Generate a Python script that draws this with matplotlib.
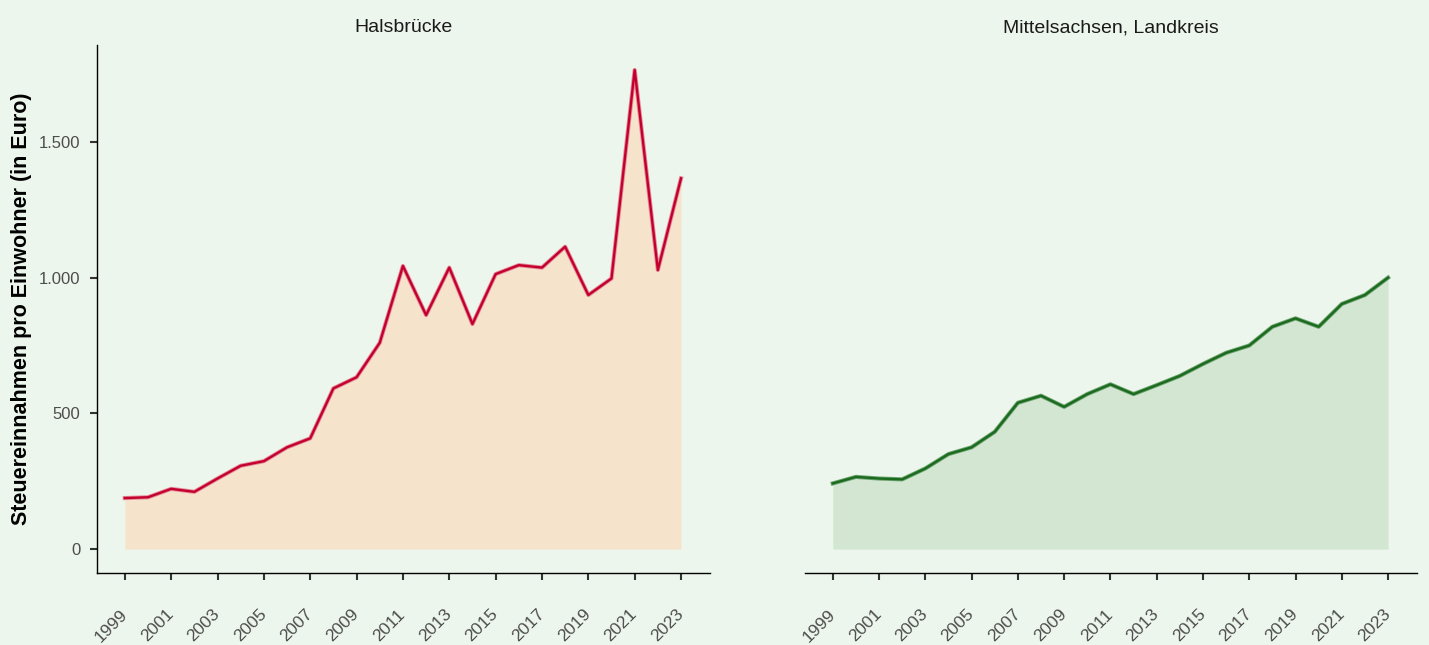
import matplotlib
matplotlib.use("Agg")
import matplotlib.pyplot as plt
from matplotlib.ticker import FuncFormatter

plt.rcParams['font.family'] = ['Liberation Sans', 'DejaVu Sans']

years = list(range(1999, 2024))
halsbruecke = [188, 191, 222, 211, 260, 307, 324, 375, 408, 592, 633, 760,
               1043, 862, 1037, 829, 1013, 1046, 1037, 1114, 936, 997, 1765, 1028, 1366]
mittelsachsen = [242, 266, 260, 257, 297, 350, 375, 432, 539, 565, 524, 571,
                 607, 571, 604, 638, 682, 723, 750, 819, 850, 819, 903, 936, 1000]
titles = ["Halsbrücke", "Mittelsachsen, Landkreis"]
ylabel = "Steuereinnahmen pro Einwohner (in Euro)"
yticks = [0, 500, 1000, 1500]
xticks = list(range(1999, 2024, 2))

bg = "#EDF6EC"
fills = ["#F5E3CB", "#D3E6D2"]
lines = ["#C3002D", "#1B6B1E"]
halos = ["#E48A9A", "#6FA472"]

fig = plt.figure(figsize=(14.29, 6.45), dpi=100, facecolor=bg)
pos = [[97/1429, 1-573/645, (710-97)/1429, (573-45)/645],
       [805/1429, 1-573/645, (1417-805)/1429, (573-45)/645]]

fmt = FuncFormatter(lambda v, p: f"{int(v):,}".replace(",", "."))

for i, (data, title) in enumerate(zip([halsbruecke, mittelsachsen], titles)):
    ax = fig.add_axes(pos[i])
    ax.set_facecolor(bg)
    ax.fill_between(years, 0, data, color=fills[i], linewidth=0, zorder=1)
    ax.plot(years, data, color=halos[i], linewidth=3.0, solid_joinstyle="round", zorder=2)
    ax.plot(years, data, color=lines[i], linewidth=1.7, solid_joinstyle="round", zorder=3)
    ax.set_xlim(1997.8, 2024.25)
    ax.set_ylim(-88, 1857)
    ax.set_xticks(xticks)
    ax.set_xticklabels([str(x) for x in xticks], rotation=45, ha="right", va="center",
                       rotation_mode="anchor", fontsize=12.5, color="#4D4D4D")
    ax.tick_params(axis="x", length=5, width=1.5, color="#333333", pad=23)
    for s in ["top", "right"]:
        ax.spines[s].set_visible(False)
    ax.spines["bottom"].set_linewidth(1.0)
    ax.spines["left"].set_linewidth(1.0)
    ax.set_title(title, fontsize=14, color="#1A1A1A", pad=9)
    if i == 0:
        ax.set_yticks(yticks)
        ax.yaxis.set_major_formatter(fmt)
        ax.tick_params(axis="y", length=5, width=1.5, color="#333333", pad=7,
                       labelsize=12, labelcolor="#4D4D4D")
        ax.set_ylabel(ylabel, fontsize=15.5, fontweight="bold", labelpad=5)
    else:
        ax.spines["left"].set_visible(False)
        ax.set_yticks([])

fig.savefig("out.png", dpi=100, facecolor=bg)
